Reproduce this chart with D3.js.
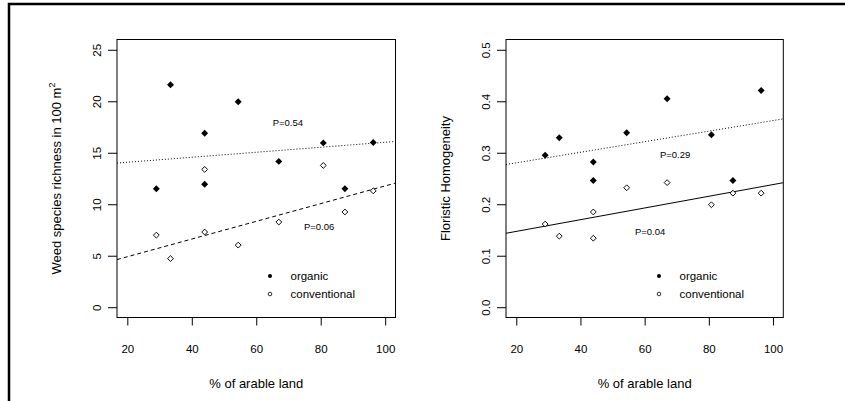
<!DOCTYPE html>
<html>
<head>
<meta charset="utf-8">
<script src="https://cdn.jsdelivr.net/npm/d3@7/dist/d3.min.js"></script>
<style>
  body { margin: 0; background: #fff; }
  text { font-family: "Liberation Sans", Arial, sans-serif; fill: #000; }
</style>
</head>
<body>
<svg id="chart" width="845" height="401"></svg>
<script>
// % of arable land around each site (same sites in both panels)
const arable = [29, 33.4, 44, 44, 54.4, 67, 80.8, 87.5, 96.3]

// left panel: weed species richness in 100 m2
const richOrganic = [11.5, 21.6, 16.9, 11.95, 19.96, 14.16, 15.96, 11.5, 16.0]
const richConventional = [7.0, 4.72, 7.3, 13.38, 6.03, 8.27, 13.77, 9.25, 11.3]
const richFitOrganic = [13.59, 0.0243]       // intercept, slope
const richFitConventional = [3.18, 0.086]
const richP = ['P=0.54', 'P=0.06']
const richPPos = [[69.8, 17.9], [79.5, 7.85]]
const richTicks = [0, 5, 10, 15, 20, 25]

// right panel: floristic homogeneity
const homOrganic = [0.295, 0.329, 0.282, 0.246, 0.339, 0.405, 0.335, 0.246, 0.421]
const homConventional = [0.1615, 0.138, 0.185, 0.134, 0.232, 0.242, 0.199, 0.2215, 0.2215]
const homFitOrganic = [0.2599, 0.001026]
const homFitConventional = [0.1245, 0.001137]
const homP = ['P=0.29', 'P=0.04']
const homPPos = [[69.5, 0.297], [61.7, 0.146]]
const homTicks = [0, 0.1, 0.2, 0.3, 0.4, 0.5]

const xTicks = [20, 40, 60, 80, 100]
const legendLabels = ['organic', 'conventional']

const panels = [
    {
        left: 117, right: 395.5,
        ylim: [0, 25], yTicks: richTicks, fmt: d3.format('d'),
        organic: richOrganic, conventional: richConventional,
        fits: [richFitOrganic, richFitConventional],
        dash: ['1,2', '4,3'],
        pText: richP, pPos: richPPos,
        yTitle: 'Weed species richness in 100 m', sup: '2'
    },
    {
        left: 506, right: 783.3,
        ylim: [0, 0.5], yTicks: homTicks, fmt: d3.format('.1f'),
        organic: homOrganic, conventional: homConventional,
        fits: [homFitOrganic, homFitConventional],
        dash: ['1,2', null],
        pText: homP, pPos: homPPos,
        yTitle: 'Floristic Homogeneity', sup: null
    }
]

const plotTop = 39.5
const plotBottom = 317.5
const svg = d3.select('#chart')

// outer frame (top and left edges only)
svg.append('path')
    .attr('d', 'M9,401V4H845')
    .attr('fill', 'none')
    .attr('stroke', '#000')
    .attr('stroke-width', 2.5)

const diamond = d3.symbol().type(d3.symbolSquare)

panels.forEach((p, i) => {
    // R style 4% extension of xlim / ylim
    const xr = [20, 100]
    const xpad = (xr[1] - xr[0]) * 0.04
    const ypad = (p.ylim[1] - p.ylim[0]) * 0.04
    const x = d3.scaleLinear().domain([xr[0] - xpad, xr[1] + xpad]).range([p.left, p.right])
    const y = d3.scaleLinear().domain([p.ylim[0] - ypad, p.ylim[1] + ypad]).range([plotBottom, plotTop])

    const g = svg.append('g')
    const clipId = 'clip' + i
    g.append('clipPath').attr('id', clipId)
        .append('rect')
        .attr('x', p.left).attr('y', plotTop)
        .attr('width', p.right - p.left).attr('height', plotBottom - plotTop)

    // x axis
    const xa = g.append('g')
        .attr('transform', 'translate(0,' + plotBottom + ')')
        .call(d3.axisBottom(x).tickValues(xTicks).tickSize(8).tickPadding(19))
    xa.select('.domain').remove()
    xa.selectAll('text').attr('font-size', 11.5).attr('font-family', null)

    // y axis with rotated labels
    const ya = g.append('g')
        .attr('transform', 'translate(' + p.left + ',0)')
        .call(d3.axisLeft(y).tickValues(p.yTicks).tickFormat(p.fmt).tickSize(9))
    ya.select('.domain').remove()
    ya.selectAll('text')
        .attr('font-size', 11.5).attr('font-family', null)
        .attr('transform', 'rotate(-90)')
        .attr('x', 0).attr('y', -16.5).attr('dy', 0)
        .attr('text-anchor', 'middle')

    // plot box
    g.append('rect')
        .attr('x', p.left).attr('y', plotTop)
        .attr('width', p.right - p.left).attr('height', plotBottom - plotTop)
        .attr('fill', 'none').attr('stroke', '#000').attr('stroke-width', 1)

    // regression lines
    const xd = x.domain()
    g.selectAll('line.fit')
        .data(p.fits)
        .join('line')
        .attr('class', 'fit')
        .attr('clip-path', 'url(#' + clipId + ')')
        .attr('x1', x(xd[0])).attr('x2', x(xd[1]))
        .attr('y1', (d) => y(d[0] + d[1] * xd[0]))
        .attr('y2', (d) => y(d[0] + d[1] * xd[1]))
        .attr('stroke', '#000')
        .attr('stroke-width', 1)
        .attr('stroke-dasharray', (d, j) => p.dash[j])

    // points
    g.selectAll('path.org')
        .data(p.organic)
        .join('path')
        .attr('class', 'org')
        .attr('d', diamond.size(24)())
        .attr('transform', (d, j) => 'translate(' + x(arable[j]) + ',' + y(d) + ') rotate(45)')
        .attr('fill', '#000')

    g.selectAll('path.conv')
        .data(p.conventional)
        .join('path')
        .attr('class', 'conv')
        .attr('d', diamond.size(17)())
        .attr('transform', (d, j) => 'translate(' + x(arable[j]) + ',' + y(d) + ') rotate(45)')
        .attr('fill', '#fff')
        .attr('stroke', '#000')
        .attr('stroke-width', 0.9)

    // P values
    g.selectAll('text.pval')
        .data(p.pText)
        .join('text')
        .attr('class', 'pval')
        .attr('x', (d, j) => x(p.pPos[j][0]))
        .attr('y', (d, j) => y(p.pPos[j][1]))
        .attr('dy', '0.35em')
        .attr('text-anchor', 'middle')
        .attr('font-size', 9.5)
        .text((d) => d)

    // legend
    const lx = p.left + 153
    const ly = 276
    legendLabels.forEach((lab, j) => {
        g.append('circle')
            .attr('cx', lx).attr('cy', ly + j * 18)
            .attr('r', j === 0 ? 2 : 1.8)
            .attr('fill', j === 0 ? '#000' : '#fff')
            .attr('stroke', '#000')
            .attr('stroke-width', j === 0 ? 0 : 0.8)
        g.append('text')
            .attr('x', lx + 20.5).attr('y', ly + j * 18)
            .attr('dy', '0.35em')
            .attr('font-size', 11.5)
            .text(lab)
    })

    // axis titles
    g.append('text')
        .attr('x', (p.left + p.right) / 2)
        .attr('y', 387.5)
        .attr('text-anchor', 'middle')
        .attr('font-size', 13)
        .text('% of arable land')

    const yt = g.append('text')
        .attr('transform', 'translate(' + (p.left - 56) + ',' + ((plotTop + plotBottom) / 2) + ') rotate(-90)')
        .attr('text-anchor', 'middle')
        .attr('font-size', 13)
        .text(p.yTitle)
    if (p.sup) {
        yt.append('tspan')
            .attr('dy', -6)
            .attr('font-size', 9)
            .text(p.sup)
    }
})
</script>
</body>
</html>
